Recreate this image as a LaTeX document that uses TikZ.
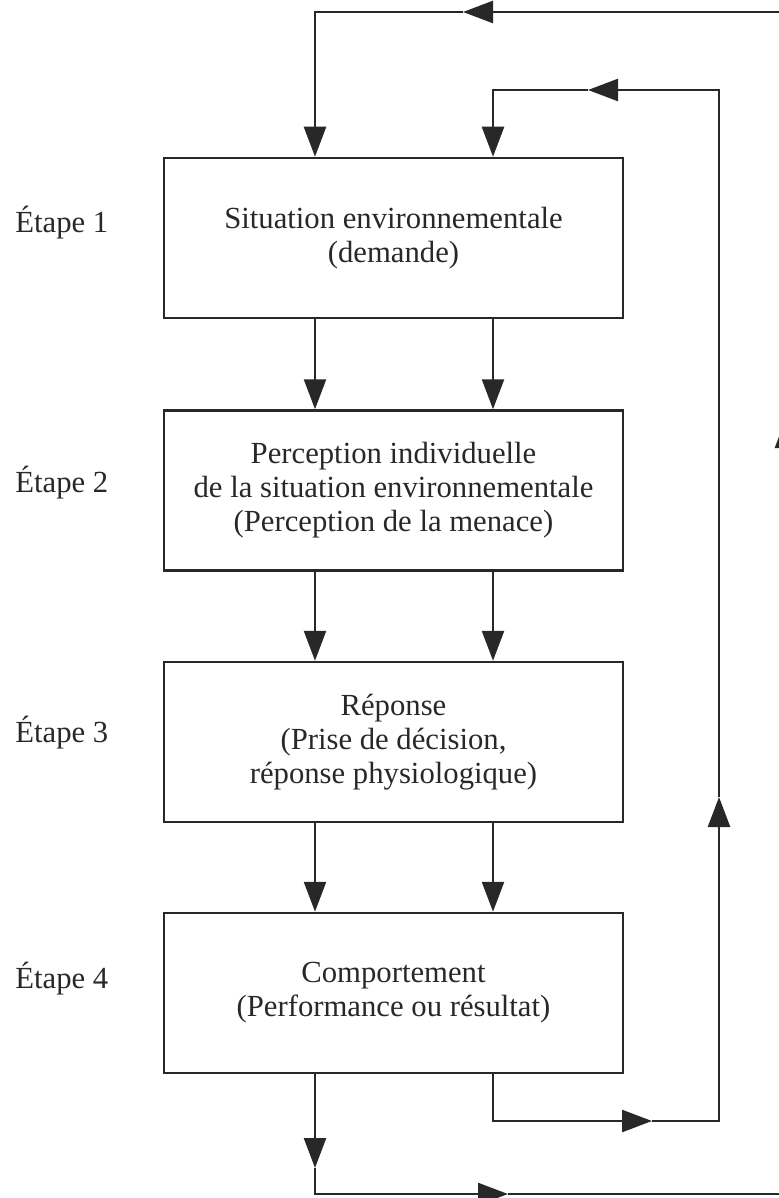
\documentclass[tikz,border=0pt]{standalone}
\usepackage{fontspec}
\setmainfont{Liberation Serif}
\usetikzlibrary{arrows.meta}
\definecolor{ink}{RGB}{40,40,40}
\begin{document}
\begin{tikzpicture}[x=0.5pt,y=-0.5pt,
  every node/.style={text=ink},
  txt/.style={font=\fontsize{15.35pt}{17pt}\selectfont},
  stage/.style={txt,draw=ink,line width=1.25pt,rectangle,minimum width=229.5pt,minimum height=80pt,align=center,inner sep=0pt},
  lbl/.style={txt,anchor=base west,inner sep=0pt},
  conn/.style={draw=ink,line width=1.25pt},
  arr/.style={conn,-{Triangle[length=15pt,width=11pt]}}]
\useasboundingbox (0,0) rectangle (779,1198);

\node[stage] (b1) at (393.5,238) {Situation environnementale\\(demande)};
\node[stage] (b2) at (393.5,490.5) {Perception individuelle\\de la situation environnementale\\(Perception de la menace)};
\node[stage] (b3) at (393.5,742) {Réponse\\(Prise de décision,\\réponse physiologique)};
\node[stage] (b4) at (393.5,993) {Comportement\\(Performance ou résultat)};

\node[lbl] (e1) at (15,233) {Étape 1};
\node[lbl] (e2) at (15,492) {Étape 2};
\node[lbl] (e3) at (15,742) {Étape 3};
\node[lbl] (e4) at (15,988) {Étape 4};

\coordinate (cL) at (315,0);
\coordinate (cR) at (493,0);

% straight arrows between stages
\foreach \a/\b in {b1/b2,b2/b3,b3/b4}{
  \draw[arr] (\a.south -| cL) -- (\b.north -| cL);
  \draw[arr] (\a.south -| cR) -- (\b.north -| cR);
}

% inner feedback loop
\coordinate (tB) at (652,1121);
\coordinate (tC) at (719,797);
\coordinate (tD) at (588,90);
\draw[arr] (b4.south -| cR) |- (tB);
\draw[arr] (tB) -| (tC);
\draw[arr] (tC) |- (tD);
\draw[arr] (tD) -| (b1.north -| cR);

% outer feedback loop
\coordinate (tE) at (315,1168);
\coordinate (tF) at (508,1194);
\coordinate (tG) at (786,418);
\coordinate (tH) at (463,12);
\draw[arr] (b4.south -| cL) -- (tE);
\draw[arr] (tE) |- (tF);
\draw[arr] (tF) -| (tG);
\draw[arr] (tG) |- (tH);
\draw[arr] (tH) -| (b1.north -| cL);
\end{tikzpicture}
\end{document}
